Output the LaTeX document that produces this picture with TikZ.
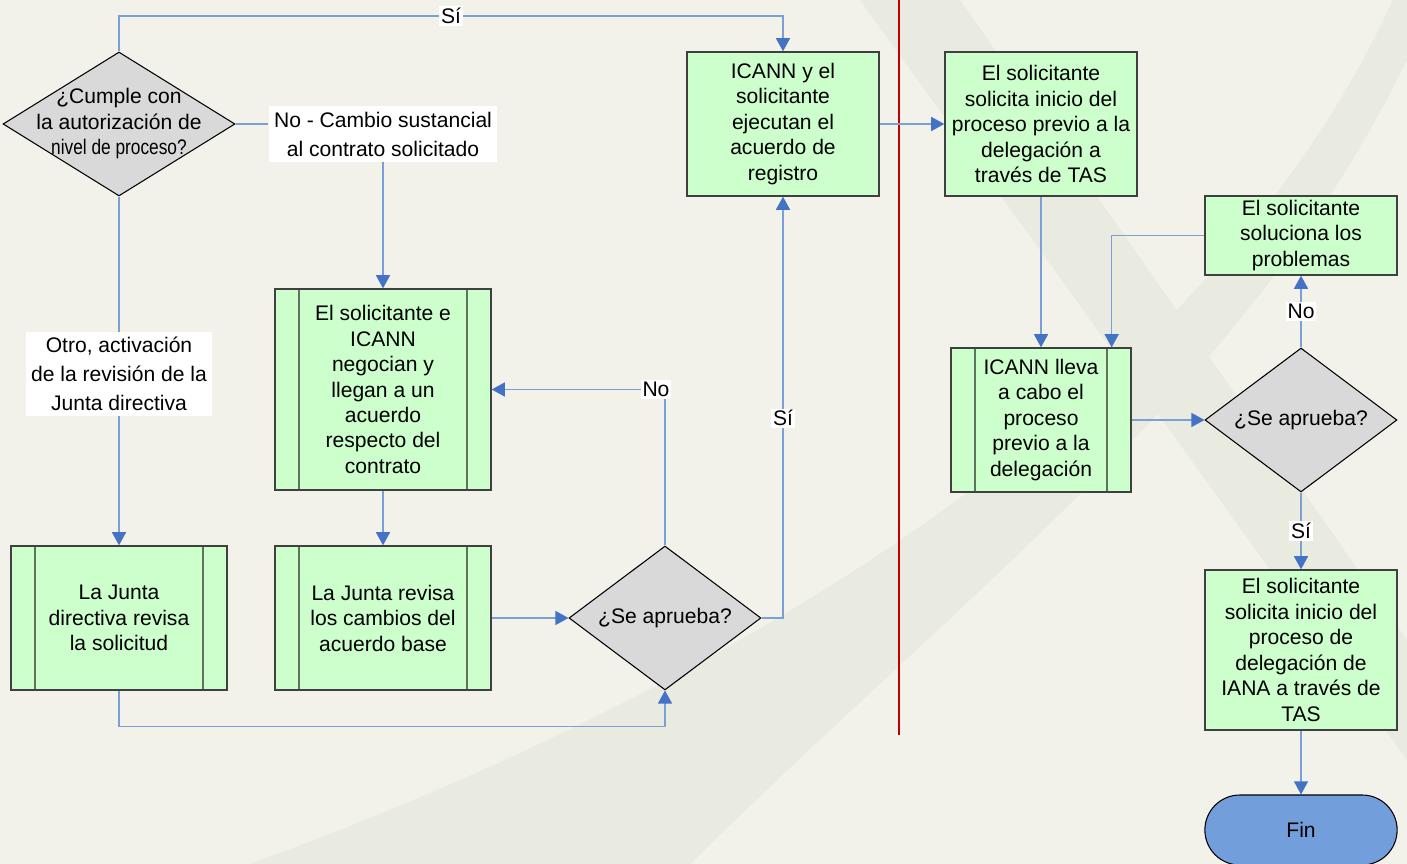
\documentclass[tikz,border=0pt]{standalone}
\usepackage{fontspec}
\setmainfont{Liberation Sans}
\usepackage{graphicx}
\usepackage{tikz}
\usetikzlibrary{positioning}
\usetikzlibrary{shapes.geometric,shapes.misc}
\usetikzlibrary{arrows.meta}

\definecolor{bgpaper}{RGB}{242,242,234}
\definecolor{swoosh}{RGB}{234,235,224}
\definecolor{boxgreen}{RGB}{204,255,204}
\definecolor{boxline}{RGB}{64,64,64}
\definecolor{barline}{RGB}{95,115,95}
\definecolor{diagray}{RGB}{217,217,217}
\definecolor{connblue}{RGB}{122,160,214}
\definecolor{tipblue}{RGB}{68,114,196}
\definecolor{finblue}{RGB}{114,159,220}
\definecolor{lanered}{RGB}{192,0,0}

\tikzset{
  txt/.style={font=\fontsize{12}{14.5}\selectfont, align=center},
  proc/.style={txt, rectangle, draw=boxline, fill=boxgreen, line width=0.8pt, inner sep=0pt},
  pproc/.style={proc, path picture={
      \draw[barline, line width=0.8pt]
        ([xshift=0.48cm]path picture bounding box.north west) -- ([xshift=0.48cm]path picture bounding box.south west)
        ([xshift=-0.48cm]path picture bounding box.north east) -- ([xshift=-0.48cm]path picture bounding box.south east);}},
  decision/.style={diamond, draw=black, fill=diagray, line width=0.6pt, inner sep=0pt, label={[txt]center:#1}},
  terminal/.style={txt, rounded rectangle, draw=black, fill=finblue, line width=0.6pt},
  conn/.style={draw=connblue, line width=0.9pt},
  arr/.style={-{Triangle[length=7.5pt,width=8pt,color=tipblue]}},
  lbl/.style={txt, fill=white, inner sep=1pt},
  biglbl/.style={txt, fill=white, inner sep=3pt, font=\fontsize{12}{16.5}\selectfont}
}

\begin{document}
\begin{tikzpicture}[x=0.02cm, y=-0.02cm]
\useasboundingbox (0,0) rectangle (1407,864);
\fill[bgpaper] (0,0) rectangle (1407,864);
\fill[swoosh] (250,864) .. controls (700,700) and (1200,420) .. (1393,0) -- (1407,0) -- (1407,60) .. controls (1250,380) and (1000,560) .. (690,864) -- cycle;
\fill[swoosh] (860,0) -- (960,0) -- (1407,640) -- (1407,760) -- cycle;
\draw[lanered, line width=1.2pt] (899,0) -- (899,735);

\node[decision={¿Cumple con\\la autorización de\\\scalebox{0.82}[1]{nivel de proceso?}}, minimum width=4.64cm, minimum height=2.88cm] (cumple) at (119,124) {};
\node[proc, minimum width=3.84cm, minimum height=2.88cm] (ejecutan) at (783,124)
{ICANN y el\\solicitante\\ejecutan el\\acuerdo de\\registro};
\node[proc, minimum width=3.84cm, minimum height=2.88cm] (iniciotas) at (1041,124)
{El solicitante\\solicita inicio del\\proceso previo a la\\delegación a\\través de TAS};
\node[biglbl] (cambio) at (383,134) {No - Cambio sustancial\\al contrato solicitado};
\node[biglbl] (otro) at (119,374) {Otro, activación\\de la revisión de la\\Junta directiva};
\node[pproc, minimum width=4.32cm, minimum height=4.02cm] (negocian) at (383,389.5)
{El solicitante e\\ICANN\\negocian y\\llegan a un\\acuerdo\\respecto del\\contrato};
\node[pproc, minimum width=4.32cm, minimum height=2.88cm] (juntasol) at (119,618)
{La Junta\\directiva revisa\\la solicitud};
\node[pproc, minimum width=4.32cm, minimum height=2.88cm] (juntabase) at (383,618)
{La Junta revisa\\los cambios del\\acuerdo base};
\node[decision={¿Se aprueba?}, minimum width=3.84cm, minimum height=2.88cm] (aprueba) at (665,618) {};
\node[pproc, minimum width=3.6cm, minimum height=2.88cm] (previo) at (1041,420)
{ICANN lleva\\a cabo el\\proceso\\previo a la\\delegación};
\node[decision={¿Se aprueba?}, minimum width=3.84cm, minimum height=2.88cm] (apruebatas) at (1301,420) {};
\node[proc, minimum width=3.84cm, minimum height=1.58cm] (soluciona) at (1301,235.5)
{El solicitante\\soluciona los\\problemas};
\node[proc, minimum width=3.84cm, minimum height=3.2cm] (inicioiana) at (1301,650)
{El solicitante\\solicita inicio del\\proceso de\\delegación de\\IANA a través de\\TAS};
\node[terminal, minimum width=4.08cm, minimum height=1.4cm] (fin) at (1301,830) {Fin};

\coordinate (topL) at (119,16);
\coordinate (topR) at (783,16);
\draw[conn, arr] (cumple.north) -- (topL) -- node[lbl] {Sí} (topR) -- (ejecutan.north);
\draw[conn] (cumple.east) -- (cumple.east -| cambio.west);
\draw[conn, arr] (cambio.south) -- (negocian.north);
\draw[conn] (cumple.south) -- (otro.north);
\draw[conn, arr] (otro.south) -- (juntasol.north);
\draw[conn, arr] (negocian.south) -- (juntabase.north);
\draw[conn, arr] (juntabase.east) -- (aprueba.west);
\draw[conn, arr] (juntasol.south) -- ++(0,36) -| (aprueba.south);
\draw[conn, arr] (aprueba.north) |- node[lbl, pos=0.526] {No} (negocian.east);
\draw[conn, arr] (aprueba.east) -| node[lbl, pos=0.737] {Sí} (ejecutan.south);
\draw[conn, arr] (ejecutan.east) -- (iniciotas.west);
\draw[conn, arr] (iniciotas.south) -- (previo.north);
\draw[conn, arr] (previo.east) -- (apruebatas.west);
\draw[conn, arr] (apruebatas.north) -- node[lbl] {No} (soluciona.south);
\draw[conn, arr] (soluciona.west) -| ([xshift=-0.4cm]previo.north east);
\draw[conn, arr] (apruebatas.south) -- node[lbl] {Sí} (inicioiana.north);
\draw[conn, arr] (inicioiana.south) -- (fin.north);
\end{tikzpicture}
\end{document}
